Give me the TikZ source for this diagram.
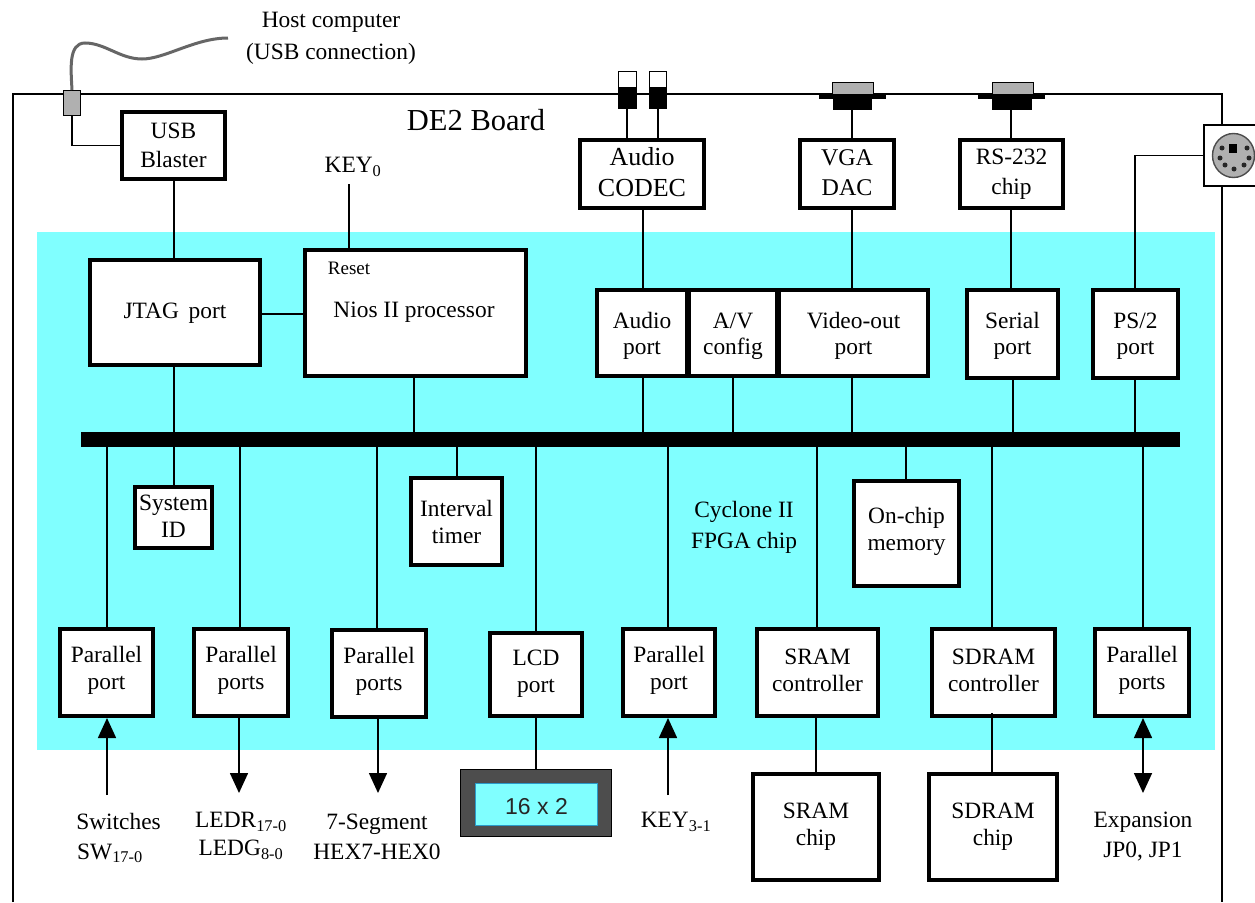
\documentclass[tikz,border=0pt]{standalone}
\usepackage{fontspec}
\setmainfont{Liberation Serif}
\newfontfamily\dispfont{Liberation Sans}
\usetikzlibrary{arrows.meta,calc,shapes.geometric}
\definecolor{fpga}{HTML}{80FFFF}
\definecolor{plug}{HTML}{B0B0B0}
\definecolor{lcdgrey}{HTML}{4D4D4D}
% #1 text offset, #2-#5 outer edges, #6 text options, #7 name, #8 text
\newcommand{\bx}[8]{\node[blk,minimum width=#3-#2-4pt,minimum height=#5-#4-4pt] (#7) at ({(#2+#3)/2},{(#4+#5)/2}) {};
  \node[boxtext,#6] (#7-t) at ({(#2+#3)/2},{(#4+#5)/2+#1}) {#8};}
\tikzset{
  blk/.style={draw=black,fill=white,line width=4pt,inner sep=0pt},
  boxtext/.style={inner sep=0pt,align=center,font=\fontsize{23.4}{27}\selectfont},
  txt/.style={inner sep=0pt,align=center,font=\fontsize{23.4}{30}\selectfont},
  wire/.style={draw=black,line width=1.6pt},
  onearrow/.style={wire,-{Triangle[length=20pt,width=18pt]}},
  twoarrow/.style={wire,{Triangle[length=20pt,width=18pt]}-{Triangle[length=20pt,width=18pt]}},
  pin/.style={fill=black!85,circle,minimum size=5pt,inner sep=0pt},
  thinbox/.style={draw=black,line width=1pt,inner sep=0pt}
}
\begin{document}
\begin{tikzpicture}[x=1pt,y=-1pt]
\useasboundingbox (0,0) rectangle (1255,902);
% board outline
\coordinate (bl) at (13,902); \coordinate (tl) at (13,94); \coordinate (tr) at (1222,94); \coordinate (br) at (1222,902);
\draw[wire] (bl) -- (tl) -- (tr) -- (1222,124);
\draw[wire] (1222,185) -- (br);
% FPGA area
\node[fill=fpga,minimum width=1178pt,minimum height=518pt,inner sep=0pt] (chip) at (626,491) {};
% bus
\node[fill=black,minimum width=1099pt,minimum height=15pt,inner sep=0pt] (bus) at (630.5,439.5) {};
% boxes
\bx{0}{120}{227}{110}{181}{font=\fontsize{23.4}{29}\selectfont}{usb}{USB\\Blaster}
\bx{1}{88}{262}{258}{367}{}{jtag}{JTAG\, port}
\bx{0}{303}{528}{248}{378}{}{nios}{}
\bx{-1.5}{578}{706}{138}{210}{font=\fontsize{26}{31}\selectfont}{codec}{Audio\\CODEC}
\bx{-1.5}{798}{896}{138}{210}{font=\fontsize{24}{30}\selectfont}{vga}{VGA\\DAC}
\bx{0}{958}{1065}{138}{210}{font=\fontsize{23.4}{30}\selectfont}{rs}{RS-232\\chip}
\bx{2.5}{595}{689}{288}{378}{font=\fontsize{23.4}{26}\selectfont}{aport}{Audio\\port}
\bx{3}{777}{930}{288}{378}{font=\fontsize{23.4}{26}\selectfont}{vport}{Video-out\\port}
\bx{3}{687}{779}{288}{378}{font=\fontsize{23.4}{26}\selectfont}{av}{A/V\\config}
\bx{1.5}{965}{1060}{288}{380}{font=\fontsize{23.4}{26}\selectfont}{serial}{Serial\\port}
\bx{2}{1091}{1180}{288}{380}{font=\fontsize{23.4}{26}\selectfont}{ps}{PS/2\\port}
\bx{-1}{133}{214}{485}{550}{}{sysid}{System\\ID}
\bx{0}{409}{504}{476}{567}{}{timer}{Interval\\timer}
\bx{-2.5}{852}{961}{479}{588}{}{onchip}{On-chip\\memory}
\bx{-2}{58}{155}{627}{718}{}{p1}{Parallel\\port}
\bx{-2}{192}{290}{627}{718}{}{p2}{Parallel\\ports}
\bx{-2}{330}{428}{628}{719}{}{p3}{Parallel\\ports}
\bx{-1}{488}{584}{631}{718}{}{lcd}{LCD\\port}
\bx{-2}{621}{717}{627}{718}{}{p4}{Parallel\\port}
\bx{-2}{755}{880}{627}{718}{}{sramc}{SRAM\\controller}
\bx{-2}{930}{1057}{627}{718}{}{sdramc}{SDRAM\\controller}
\bx{-2}{1093}{1191}{627}{718}{}{p5}{Parallel\\ports}
\bx{0}{751}{881}{772}{882}{}{sram}{SRAM\\chip}
\bx{0}{927}{1059}{772}{882}{}{sdram}{SDRAM\\chip}
% LCD display
\node[thinbox,fill=lcdgrey,minimum width=151pt,minimum height=67pt] (disp) at (536,803) {};
\node[draw=cyan!80!black,fill=fpga,line width=1pt,minimum width=122pt,minimum height=42pt,inner sep=0pt,font=\dispfont\fontsize{23}{26}\selectfont,text=black!85,text height=21.5pt] (dispin) at (536.5,804) {16 x 2};
% texts
\node[txt,font=\fontsize{23.4}{32}\selectfont] (host) at (331,38.5) {Host computer\\(USB connection)};
\node[txt,font=\fontsize{30.5}{34}\selectfont] (board) at (476,120) {DE2 Board};
\node[txt] (key0) at (353,167) {KEY\textsubscript{0}};
\node[txt,font=\fontsize{19}{22}\selectfont] (reset) at (349,268) {Reset};
\node[txt] (niost) at (414,312) {Nios II processor};
\node[txt,font=\fontsize{23.4}{31}\selectfont] (cyc) at (744,527.5) {Cyclone II\\FPGA chip};
\node[txt] (sw) at (110,838) {\hspace*{17pt}Switches\\SW\textsubscript{17-0}};
\node[txt,font=\fontsize{23.4}{28.5}\selectfont] (led) at (241,836) {LEDR\textsubscript{17-0}\\LEDG\textsubscript{8-0}};
\node[txt] (seg) at (377,836.5) {7-Segment\\HEX7-HEX0};
\node[txt] (key3) at (676,822) {KEY\textsubscript{3-1}};
\node[txt] (exp) at (1143,837) {Expansion\\JP0, JP1};
% USB plug and cable
\node[thinbox,fill=plug,minimum width=17pt,minimum height=25pt] (usbplug) at (72,103) {};
\draw[draw=black!60,line width=3pt] (usbplug.north) .. controls (71,70) and (68,43) .. (85,43) .. controls (105,43) and (120,59) .. (142,59) .. controls (165,59) and (195,38) .. (228,38);
\draw[wire] (usbplug.south) |- (usb.west);
% jacks
\node[thinbox,fill=white,minimum width=18pt,minimum height=18pt] (j1t) at (627,80) {};
\node[thinbox,fill=white,minimum width=17pt,minimum height=18pt] (j2t) at (657.5,80) {};
\node[fill=black,minimum width=19pt,minimum height=22pt,inner sep=0pt] (j1) at (627,98) {};
\node[fill=black,minimum width=18pt,minimum height=22pt,inner sep=0pt] (j2) at (657.5,98) {};
\draw[wire] (j1.south) -- (j1.south |- codec.north);
\draw[wire] (658,0 |- j2.south) -- (658,0 |- codec.north);
% D-sub connectors
\node[thinbox,fill=plug,minimum width=41pt,minimum height=14pt] (v1) at (852.5,89) {};
\node[fill=black,minimum width=67pt,minimum height=5pt,inner sep=0pt] (v2) at (852.5,96.5) {};
\node[fill=black,minimum width=39pt,minimum height=11pt,inner sep=0pt] (v3) at (852.5,104) {};
\node[thinbox,fill=plug,minimum width=41pt,minimum height=14pt] (r1) at (1012.5,89) {};
\node[fill=black,minimum width=67pt,minimum height=5pt,inner sep=0pt] (r2) at (1011.5,96.5) {};
\node[fill=black,minimum width=40pt,minimum height=11pt,inner sep=0pt] (r3) at (1012,104) {};
\draw[wire] (852,0 |- v3.south) -- (852,0 |- vga.north);
\draw[wire] (1011,0 |- r3.south) -- (1011,0 |- rs.north);
% PS/2 connector
\node[draw=black,fill=white,line width=1.6pt,minimum width=54pt,minimum height=61pt,inner sep=0pt] (psbox) at (1231,155.5) {};
\node[draw=black!70,fill=plug,line width=1.4pt,ellipse,minimum width=42pt,minimum height=44pt,inner sep=0pt] (psjack) at (1233.5,155.5) {};
\node[fill=black,minimum width=8pt,minimum height=9pt,inner sep=0pt] (pskey) at (1233,148) {};
\foreach \i/\a/\b in {a/1222/148,b/1247/148,c/1220/158,d/1249/158,e/1225/165,f/1244/165,g/1234/169}
  \node[pin] (pd\i) at (\a,\b) {};
\draw[wire] (psbox.west) -| (1135,0 |- ps.north);
% connectors above the bus
\draw[wire] (174,0 |- usb.south) -- (174,0 |- jtag.north);
\coordinate (k0) at (349,184);
\draw[wire] (k0) -- (k0 |- nios.north);
\draw[wire] (262,314) -- (303,314);
\draw[wire] (643,0 |- codec.south) -- (643,0 |- aport.north);
\draw[wire] (852,0 |- vga.south) -- (852,0 |- vport.north);
\draw[wire] (1011,0 |- rs.south) -- (1011,0 |- serial.north);
\draw[wire] (174,0 |- jtag.south) -- (174,0 |- bus.north);
\draw[wire] (414,0 |- nios.south) -- (414,0 |- bus.north);
\draw[wire] (643,0 |- aport.south) -- (643,0 |- bus.north);
\draw[wire] (733,0 |- av.south) -- (733,0 |- bus.north);
\draw[wire] (852,0 |- vport.south) -- (852,0 |- bus.north);
\draw[wire] (1013,0 |- serial.south) -- (1013,0 |- bus.north);
\draw[wire] (1135,0 |- ps.south) -- (1135,0 |- bus.north);
% connectors below the bus
\draw[wire] (174,0 |- sysid.north) -- (174,0 |- bus.south);
\draw[wire] (457,0 |- bus.south) -- (457,0 |- timer.north);
\draw[wire] (906,0 |- bus.south) -- (906,0 |- onchip.north);
\draw[wire] (107,0 |- bus.south) -- (107,0 |- p1.north);
\draw[wire] (240,0 |- bus.south) -- (240,0 |- p2.north);
\draw[wire] (377,0 |- bus.south) -- (377,0 |- p3.north);
\draw[wire] (536,0 |- bus.south) -- (536,0 |- lcd.north);
\draw[wire] (668,0 |- bus.south) -- (668,0 |- p4.north);
\draw[wire] (817,0 |- bus.south) -- (817,0 |- sramc.north);
\draw[wire] (992,0 |- bus.south) -- (992,0 |- sdramc.north);
\draw[wire] (1143,0 |- bus.south) -- (1143,0 |- p5.north);
% bottom connectors
\draw[wire] (536,0 |- lcd.south) -- (536,0 |- disp.north);
\draw[wire] (816,0 |- sramc.south) -- (816,0 |- sram.north);
\draw[wire] (992,713) -- (992,0 |- sdram.north);
\coordinate (swend) at (107,795);
\coordinate (ledend) at (239,793);
\coordinate (segend) at (378,793);
\coordinate (keyend) at (668,795);
\coordinate (expend) at (1143,793);
\draw[onearrow] (swend) -- (swend |- p1.south);
\draw[onearrow] (ledend |- p2.south) -- (ledend);
\draw[onearrow] (segend |- p3.south) -- (segend);
\draw[onearrow] (keyend) -- (keyend |- p4.south);
\draw[twoarrow] (expend |- p5.south) -- (expend);
\end{tikzpicture}
\end{document}
